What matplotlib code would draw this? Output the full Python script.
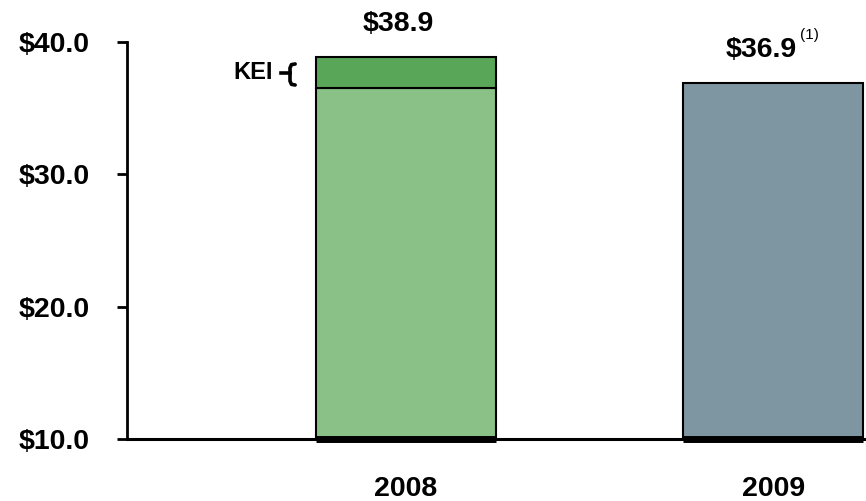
import matplotlib
matplotlib.use("Agg")
import matplotlib.pyplot as plt
from matplotlib.lines import Line2D

# Revenue ($ millions)
years = ["2008", "2009"]
base_2008 = 36.5
kei_2008 = 2.4
total_2008 = 38.9
total_2009 = 36.9
y_ticks = [10.0, 20.0, 30.0, 40.0]
y_tick_labels = ["$10.0", "$20.0", "$30.0", "$40.0"]

plt.rcParams["font.family"] = ["Liberation Sans", "DejaVu Sans"]
plt.rcParams["font.weight"] = "bold"

fig = plt.figure(figsize=(8.66, 5.01), dpi=100)
ax = fig.add_axes([127 / 866, 1 - 439 / 501, 739 / 866, (439 - 42) / 501])

floor = 10.0
light_green = "#8ac186"
dark_green = "#5aa658"
slate = "#7e96a1"
width = 0.49

# 2008 stacked bar: base business plus KEI
ax.bar(0, base_2008 - floor, bottom=floor, width=width, color=light_green,
       edgecolor="black", linewidth=1.5, zorder=2)
ax.bar(0, kei_2008, bottom=base_2008, width=width, color=dark_green,
       edgecolor="black", linewidth=1.5, zorder=2)
# 2009 bar
ax.bar(1, total_2009 - floor, bottom=floor, width=width, color=slate,
       edgecolor="black", linewidth=1.5, zorder=2)

# heavier base under each bar
for x in (0, 1):
    ax.add_line(Line2D([x - width / 2, x + width / 2], [floor, floor],
                       color="black", linewidth=5, clip_on=False, zorder=3,
                       solid_capstyle="butt"))

ax.set_xlim(-0.76, 1.253)
ax.set_ylim(floor, 40.0)

ax.set_yticks(y_ticks)
ax.set_yticklabels(y_tick_labels, fontsize=20.5, fontweight="bold")
ax.set_xticks([0, 1])
ax.set_xticklabels(years, fontsize=20.5, fontweight="bold")
ax.tick_params(axis="y", length=7, width=2, pad=20, direction="out")
ax.tick_params(axis="x", length=0, pad=27)

for side in ("top", "right"):
    ax.spines[side].set_visible(False)
ax.spines["left"].set_linewidth(2)
ax.spines["bottom"].set_linewidth(2.2)
ax.spines["bottom"].set_zorder(4)

# value labels
ax.text(-0.022, 41.36, "$%.1f" % total_2008, ha="center", va="center",
        fontsize=20.5, fontweight="bold", clip_on=False)
ax.text(0.968, 39.4, "$%.1f" % total_2009, ha="center", va="center",
        fontsize=20.5, fontweight="bold", clip_on=False)
ax.text(1.074, 40.5, "(1)", ha="left", va="center",
        fontsize=11, fontweight="normal", clip_on=False)

# KEI bracket
bx = -0.316
top, bot, mid = 38.34, 36.75, 37.66
ax.text(-0.362, mid, "KEI", ha="right", va="center",
        fontsize=17, fontweight="bold")
ax.plot([bx + 0.014, bx + 0.004, bx, bx, bx + 0.004, bx + 0.014],
        [top, top - 0.05, top - 0.3, bot + 0.3, bot + 0.05, bot],
        color="black", linewidth=2.6, clip_on=False, solid_capstyle="round",
        solid_joinstyle="round")
ax.plot([bx - 0.024, bx], [mid, mid], color="black", linewidth=2.6,
        clip_on=False)

fig.savefig("out.png", dpi=100)
